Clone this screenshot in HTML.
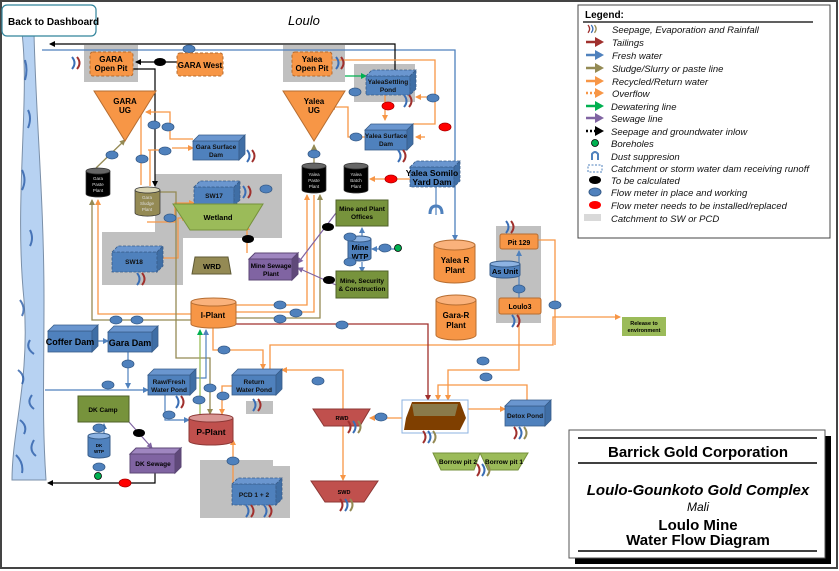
<!DOCTYPE html>
<html><head><meta charset="utf-8"><style>
html,body{margin:0;padding:0;background:#fff;}
svg{display:block;font-family:"Liberation Sans",sans-serif;}
.b{font-weight:bold;}
</style></head><body>
<svg width="839" height="571" viewBox="0 0 839 571" xmlns="http://www.w3.org/2000/svg">
<defs>
<marker id="ao" markerUnits="userSpaceOnUse" markerWidth="6" markerHeight="6" refX="5" refY="3" orient="auto"><path d="M0,0L6,3L0,6z" fill="#f79646"/></marker>
<marker id="ab" markerUnits="userSpaceOnUse" markerWidth="6" markerHeight="6" refX="5" refY="3" orient="auto"><path d="M0,0L6,3L0,6z" fill="#4f81bd"/></marker>
<marker id="ak" markerUnits="userSpaceOnUse" markerWidth="6" markerHeight="6" refX="5" refY="3" orient="auto"><path d="M0,0L6,3L0,6z" fill="#000"/></marker>
<marker id="ar" markerUnits="userSpaceOnUse" markerWidth="6" markerHeight="6" refX="5" refY="3" orient="auto"><path d="M0,0L6,3L0,6z" fill="#a0302d"/></marker>
<marker id="ap" markerUnits="userSpaceOnUse" markerWidth="6" markerHeight="6" refX="5" refY="3" orient="auto"><path d="M0,0L6,3L0,6z" fill="#8064a2"/></marker>
<marker id="ag" markerUnits="userSpaceOnUse" markerWidth="6" markerHeight="6" refX="5" refY="3" orient="auto"><path d="M0,0L6,3L0,6z" fill="#00b050"/></marker>
<marker id="ao2" markerUnits="userSpaceOnUse" markerWidth="6" markerHeight="6" refX="5" refY="3" orient="auto"><path d="M0,0L6,3L0,6z" fill="#948a54"/></marker>
<g id="sp"><path d="M0,0 q5,6 0,12" fill="none" stroke="#3a6eb5" stroke-width="2"/><path d="M5,0 q5,6 0,12" fill="none" stroke="#a0302d" stroke-width="2"/></g>
<g id="sp3"><path d="M0,0 q5,6 0,12" fill="none" stroke="#a0302d" stroke-width="2"/><path d="M5,0 q5,6 0,12" fill="none" stroke="#3a6eb5" stroke-width="2"/><path d="M10,0 q5,6 0,12" fill="none" stroke="#948a54" stroke-width="2"/></g>
<ellipse id="m" rx="6" ry="4" fill="#4f81bd" stroke="#385d8a" stroke-width=".8"/>
<ellipse id="mr" rx="6" ry="4" fill="#f00" stroke="#a00" stroke-width=".8"/>
<ellipse id="mk" rx="6" ry="4" fill="#000"/>
</defs>
<rect x="1" y="1" width="836" height="567" fill="#fff" stroke="#444" stroke-width="2"/>

<g fill="#c0c0c0">
<rect x="84" y="45" width="54" height="37"/>
<rect x="283" y="45" width="62" height="37"/>
<rect x="354" y="64" width="61" height="38"/>
<path d="M155,174H282V238H183V285H102V232H155Z"/>
<rect x="496" y="226" width="45" height="97"/>
<path d="M200,460H273V466H290V518H200Z"/>
<rect x="246" y="401" width="27" height="13"/>
</g>

<path d="M22,33 C30,100 14,200 24,300 C30,380 12,430 12,480 L46,480 C42,420 44,380 44,300 C44,200 36,120 34,33Z" fill="#b7d2f2" stroke="#7a8fa8" stroke-width="1"/>
<g stroke="#2b5ca8" stroke-width="2" fill="none" opacity=".8">
<path d="M25,60 q3,10 0,20M28,110 q4,8 0,18M22,170 q5,10 0,20M30,230 q4,8 0,16M20,300 q6,8 2,16M30,340 q-5,8 4,14M18,370 q8,6 4,14M32,395 q-6,8 2,14M20,420 q8,6 4,14M34,440 q-6,10 2,16M16,455 q8,8 6,18"/>
</g>

<rect x="2" y="5" width="94" height="31" rx="5" fill="#fff" stroke="#31849b" stroke-width="1.2"/>
<text x="8" y="25" font-size="10" class="b">Back to Dashboard</text>
<text x="288" y="25" font-size="13" font-style="italic">Loulo</text>

<path d="M42,50H455V240" fill="none" stroke="#4f81bd" stroke-width="1.3" marker-end="url(#ab)"/>
<path d="M395,70V44H50" fill="none" stroke="#000" stroke-width="1.2" marker-end="url(#ak)"/>
<use href="#m" x="189" y="49"/>
<path d="M177,62H136" stroke="#000" stroke-width="1.2" marker-end="url(#ak)"/>
<use href="#mk" x="160" y="62"/>
<path d="M133,69H155V186" fill="none" stroke="#000" stroke-width="1.2" marker-end="url(#ak)"/>

<g fill="none" stroke="#f79646" stroke-width="1.3">
<path d="M332,60H435V97H416" marker-end="url(#ao)"/>
<path d="M435,97V124H413" />
<path d="M425,137H416" marker-end="url(#ao)"/>
<path d="M385,95V120" marker-end="url(#ao)"/>
<path d="M365,137H348V107H330" marker-end="url(#ao)"/>
<path d="M410,179H370" marker-end="url(#ao)"/>
<path d="M193,139H170V112H146" marker-end="url(#ao)"/>
<path d="M141,110V185"/>
<path d="M148,150H170 M150,150V186" />
<path d="M172,148H193" marker-end="url(#ao)"/>
<path d="M147,222H175V203H194" marker-end="url(#ao)"/>
<path d="M163,258H178V218H187" marker-end="url(#ao)"/>
<path d="M247,253V225" marker-end="url(#ao)"/>
<path d="M191,314H98V200" marker-end="url(#ao)"/>
<path d="M236,305H307V195" marker-end="url(#ao)"/>
<path d="M236,312H314V195"/>
<path d="M213,328V350H263V369" marker-end="url(#ao)"/>
<path d="M270,369V345H553V317H620" marker-end="url(#ao)"/>
<path d="M538,240H555V345"/>
<path d="M519,314V370H448V400" marker-end="url(#ao)"/>
<path d="M527,400V385H438V400" marker-end="url(#ao)"/>
<path d="M468,409H505" marker-end="url(#ao)"/>
<path d="M402,418H370" marker-end="url(#ao)"/>
<path d="M343,418V370H282" marker-end="url(#ao)"/>
<path d="M343,426V480" marker-end="url(#ao)"/>
<path d="M233,497V440" marker-end="url(#ao)"/>
<path d="M232,386H222V414" marker-end="url(#ao)"/>
</g>
<g fill="none" stroke="#948a54" stroke-width="1.3">
<path d="M191,320H92V200" marker-end="url(#ao2)"/>
<path d="M236,318H320V195" marker-end="url(#ao2)"/>
<path d="M96,168L125,140" marker-end="url(#ao2)"/>
<path d="M160,192H176V358H210V414" marker-end="url(#ao2)"/>
<path d="M314,163V145" marker-end="url(#ao2)"/>
</g>
<path d="M236,324H428V400" fill="none" stroke="#a0302d" stroke-width="1.3" marker-end="url(#ar)"/>
<g fill="none" stroke="#4f81bd" stroke-width="1.2">
<path d="M45,390H148" marker-end="url(#ab)"/>
<path d="M128,352V388" marker-end="url(#ab)"/>
<path d="M98,341H108" marker-end="url(#ab)"/>
<path d="M196,378H206V330" marker-end="url(#ab)"/>
<path d="M165,395V420H189" marker-end="url(#ab)"/>
<path d="M362,262V272" marker-end="url(#ab)"/>
<path d="M362,236V228" marker-end="url(#ab)"/>
<path d="M396,249H372" marker-end="url(#ab)"/>
<path d="M519,298V251" marker-end="url(#ab)"/>
<path d="M104,434V424" marker-end="url(#ab)"/>
<path d="M436,187V215"/>
</g>
<path d="M200,414V330" stroke="#9bbb59" stroke-width="1.3" fill="none" marker-end="url(#ag)"/>
<path d="M345,76H366" stroke="#00b050" stroke-width="1.3" marker-end="url(#ag)"/>
<g stroke="#8064a2" stroke-width="1.2" fill="none">
<path d="M336,213L298,263" marker-end="url(#ap)"/>
<path d="M336,285L298,268" marker-end="url(#ap)"/>
<path d="M129,422L152,448" marker-end="url(#ap)"/>
</g>
<path d="M155,473V483H48" stroke="#000" stroke-width="1.2" fill="none" marker-end="url(#ak)"/>
<path d="M430,214q0,-8 6,-8q6,0 6,8" fill="none" stroke="#4f81bd" stroke-width="3"/>

<path d="M94,91H156L125,141Z" fill="#f79646" stroke="#b66d31"/>
<text x="125" y="104" font-size="8" class="b" text-anchor="middle">GARA</text>
<text x="125" y="113" font-size="8" class="b" text-anchor="middle">UG</text>
<path d="M283,91H345L314,141Z" fill="#f79646" stroke="#b66d31"/>
<text x="314" y="104" font-size="8" class="b" text-anchor="middle">Yalea</text>
<text x="314" y="113" font-size="8" class="b" text-anchor="middle">UG</text>

<g stroke="#b66d31" stroke-dasharray="3,2" fill="#f79646">
<rect x="90" y="52" width="43" height="24" rx="3"/><rect x="177" y="53" width="46" height="23" rx="3"/><rect x="292" y="52" width="40" height="24" rx="3"/>
</g>
<g font-size="8" class="b" text-anchor="middle">
<text x="111" y="62">GARA</text><text x="111" y="71">Open Pit</text>
<text x="200" y="68">GARA West</text>
<text x="312" y="62">Yalea</text><text x="312" y="71">Open Pit</text>
</g>
<g stroke="#b66d31" fill="#f79646">
<rect x="500" y="234" width="38" height="15" rx="2"/><rect x="499" y="298" width="42" height="16" rx="2"/>
</g>
<text x="519" y="245" font-size="7" class="b" text-anchor="middle">Pit 129</text>
<text x="520" y="309" font-size="7" class="b" text-anchor="middle">Loulo3</text>

<g fill="#4f81bd" stroke="#385d8a" stroke-width=".8">
<g stroke-dasharray="3,1.5"><rect x="366" y="76" width="44" height="19"/><path d="M366,76L372,70H416L410,76Z" fill="#6a96cf"/><path d="M410,76L416,70V89L410,95Z" fill="#3f6ea5"/></g>
<rect x="193" y="141" width="46" height="19"/><path d="M193,141L199,135H245L239,141Z" fill="#6a96cf"/><path d="M239,141L245,135V154L239,160Z" fill="#3f6ea5"/>
<rect x="365" y="130" width="42" height="20"/><path d="M365,130L371,124H413L407,130Z" fill="#6a96cf"/><path d="M407,130L413,124V144L407,150Z" fill="#3f6ea5"/>
<g stroke-dasharray="3,1.5"><rect x="410" y="167" width="44" height="20"/><path d="M410,167L416,161H460L454,167Z" fill="#6a96cf"/><path d="M454,167L460,161V181L454,187Z" fill="#3f6ea5"/>
<rect x="194" y="187" width="40" height="19"/><path d="M194,187L200,181H240L234,187Z" fill="#6a96cf"/><path d="M234,187L240,181V200L234,206Z" fill="#3f6ea5"/>
<rect x="112" y="252" width="45" height="20"/><path d="M112,252L118,246H163L157,252Z" fill="#6a96cf"/><path d="M157,252L163,246V266L157,272Z" fill="#3f6ea5"/>
<rect x="232" y="484" width="44" height="21"/><path d="M232,484L238,478H282L276,484Z" fill="#6a96cf"/><path d="M276,484L282,478V499L276,505Z" fill="#3f6ea5"/></g>
<rect x="48" y="331" width="44" height="21"/><path d="M48,331L54,325H98L92,331Z" fill="#6a96cf"/><path d="M92,331L98,325V346L92,352Z" fill="#3f6ea5"/>
<rect x="108" y="332" width="44" height="20"/><path d="M108,332L114,326H158L152,332Z" fill="#6a96cf"/><path d="M152,332L158,326V346L152,352Z" fill="#3f6ea5"/>
<rect x="148" y="375" width="42" height="20"/><path d="M148,375L154,369H196L190,375Z" fill="#6a96cf"/><path d="M190,375L196,369V389L190,395Z" fill="#3f6ea5"/>
<rect x="232" y="375" width="44" height="20"/><path d="M232,375L238,369H282L276,375Z" fill="#6a96cf"/><path d="M276,375L282,369V389L276,395Z" fill="#3f6ea5"/>
<rect x="505" y="406" width="40" height="20"/><path d="M505,406L511,400H551L545,406Z" fill="#6a96cf"/><path d="M545,406L551,400V420L545,426Z" fill="#3f6ea5"/>
</g>
<g font-size="6.5" class="b" text-anchor="middle" fill="#111">
<text x="388" y="84">YaleaSettling</text><text x="388" y="92">Pond</text>
<text x="216" y="149">Gara Surface</text><text x="216" y="157">Dam</text>
<text x="386" y="138">Yalea Surface</text><text x="386" y="146">Dam</text>
<text x="214" y="198">SW17</text><text x="134" y="264">SW18</text>
<text x="254" y="497">PCD 1 + 2</text>
<text x="169" y="384">Raw/Fresh</text><text x="169" y="392">Water Pond</text>
<text x="254" y="384">Return</text><text x="254" y="392">Water Pond</text>
<text x="525" y="418">Detox Pond</text>
</g>
<text x="432" y="176" font-size="8.5" class="b" text-anchor="middle">Yalea Somilo</text>
<text x="432" y="185" font-size="8.5" class="b" text-anchor="middle">Yard Dam</text>
<text x="70" y="345" font-size="9" class="b" text-anchor="middle">Coffer Dam</text>
<text x="130" y="346" font-size="9" class="b" text-anchor="middle">Gara Dam</text>

<path d="M173,204H263L247,230H190Z" fill="#9bbb59" stroke="#76923c"/>
<text x="218" y="220" font-size="7.5" class="b" text-anchor="middle">Wetland</text>
<path d="M195,257H228L231,274H192Z" fill="#948a54" stroke="#5f5a36"/>
<text x="212" y="269" font-size="7.5" class="b" text-anchor="middle">WRD</text>

<g stroke="#4f6228" fill="#77933c">
<rect x="336" y="200" width="52" height="26"/><rect x="336" y="271" width="52" height="27"/><rect x="78" y="396" width="51" height="26"/>
</g>
<g font-size="6.5" class="b" text-anchor="middle">
<text x="362" y="211">Mine and Plant</text><text x="362" y="219">Offices</text>
<text x="362" y="283">Mine, Security</text><text x="362" y="291">&amp; Construction</text>
<text x="103" y="412">DK Camp</text>
</g>
<g fill="#8064a2" stroke="#5c4776">
<rect x="249" y="259" width="43" height="21"/><path d="M249,259L255,253H298L292,259Z" fill="#9f86c0"/><path d="M292,259L298,253V274L292,280Z" fill="#60497a"/>
<rect x="130" y="454" width="45" height="19"/><path d="M130,454L136,448H181L175,454Z" fill="#9f86c0"/><path d="M175,454L181,448V467L175,473Z" fill="#60497a"/>
</g>
<text x="271" y="268" font-size="6.5" class="b" text-anchor="middle">Mine Sewage</text>
<text x="271" y="276" font-size="6.5" class="b" text-anchor="middle">Plant</text>
<text x="153" y="466" font-size="6.5" class="b" text-anchor="middle">DK Sewage</text>
<rect x="622" y="317" width="44" height="19" fill="#9bbb59"/>
<text x="644" y="325" font-size="5.5" class="b" text-anchor="middle">Release to</text>
<text x="644" y="332" font-size="5.5" class="b" text-anchor="middle">environment</text>

<g stroke="#333" stroke-width=".7">
<path d="M86,171V194A12,3 0 0 0 110,194V171" fill="#000"/><ellipse cx="98" cy="171" rx="12" ry="3" fill="#666"/>
<path d="M302,166V190A12,3 0 0 0 326,190V166" fill="#000"/><ellipse cx="314" cy="166" rx="12" ry="3" fill="#666"/>
<path d="M344,166V190A12,3 0 0 0 368,190V166" fill="#000"/><ellipse cx="356" cy="166" rx="12" ry="3" fill="#666"/>
<path d="M135,190V213A12,3 0 0 0 160,213V190" fill="#948a54"/><ellipse cx="147.5" cy="190" rx="12.5" ry="3" fill="#d9d4b4"/>
</g>
<g font-size="4.5" fill="#ddd" text-anchor="middle">
<text x="98" y="180">Gara</text><text x="98" y="186">Paste</text><text x="98" y="192">Plant</text>
<text x="314" y="176">Yalea</text><text x="314" y="182">Paste</text><text x="314" y="188">Plant</text>
<text x="356" y="176">Yalea</text><text x="356" y="182">Batch</text><text x="356" y="188">Plant</text>
<text x="147" y="199">Gara</text><text x="147" y="205">Sludge</text><text x="147" y="211">Plant</text>
</g>
<g stroke="#b66d31" fill="#f79646">
<path d="M434,245V278A20.5,5 0 0 0 475,278V245" /><ellipse cx="454.5" cy="245" rx="20.5" ry="5" fill="#fab27c"/>
<path d="M436,300V335A20,5 0 0 0 476,335V300" /><ellipse cx="456" cy="300" rx="20" ry="5" fill="#fab27c"/>
<path d="M191,302V324A22.5,4 0 0 0 236,324V302" /><ellipse cx="213.5" cy="302" rx="22.5" ry="4" fill="#fab27c"/>
</g>
<g font-size="8" class="b" text-anchor="middle">
<text x="455" y="263">Yalea R</text><text x="455" y="273">Plant</text>
<text x="456" y="318">Gara-R</text><text x="456" y="328">Plant</text>
<text x="213" y="318">I-Plant</text>
</g>
<g stroke="#8c3836" fill="#c0504d">
<path d="M189,418V441A22,4 0 0 0 233,441V418"/><ellipse cx="211" cy="418" rx="22" ry="4" fill="#d99694"/>
</g>
<text x="211" y="435" font-size="8.5" class="b" text-anchor="middle">P-Plant</text>
<g stroke="#385d8a" fill="#4f81bd">
<path d="M348,239V258A11.5,3 0 0 0 371,258V239"/><ellipse cx="359.5" cy="239" rx="11.5" ry="3" fill="#8db3e2"/>
<path d="M490,264V275A15,3 0 0 0 520,275V264"/><ellipse cx="505" cy="264" rx="15" ry="3" fill="#8db3e2"/>
<path d="M88,436V455A11,3 0 0 0 110,455V436"/><ellipse cx="99" cy="436" rx="11" ry="3" fill="#8db3e2"/>
</g>
<text x="360" y="250" font-size="7.5" class="b" text-anchor="middle">Mine</text>
<text x="360" y="259" font-size="7.5" class="b" text-anchor="middle">WTP</text>
<text x="505" y="274" font-size="7.5" class="b" text-anchor="middle">As Unit</text>
<text x="99" y="447" font-size="4.5" class="b" text-anchor="middle">DK</text>
<text x="99" y="453" font-size="4.5" class="b" text-anchor="middle">WTP</text>

<path d="M313,409H370L360,426H324Z" fill="#c0504d" stroke="#8c3836"/>
<text x="342" y="420" font-size="5.5" class="b" text-anchor="middle">RWD</text>
<path d="M311,481H378L364,502H325Z" fill="#c0504d" stroke="#8c3836"/>
<text x="344" y="494" font-size="5.5" class="b" text-anchor="middle">SWD</text>
<rect x="402" y="400" width="66" height="33" fill="#fff" stroke="#8db3e2"/>
<path d="M412,402H460L466,418L460,430H404L406,418Z" fill="#7f3f00"/>
<path d="M412,404H458L455,416H414Z" fill="#8a7a4a"/>
<path d="M433,453H480L474,470H441Z M480,453H528L518,470H488Z" fill="#9bbb59" stroke="#76923c"/>
<text x="458" y="464" font-size="6.5" class="b" text-anchor="middle">Borrow pit 2</text>
<text x="504" y="464" font-size="6.5" class="b" text-anchor="middle">Borrow pit 1</text>

<use href="#sp" x="72" y="57"/><use href="#sp" x="336" y="57"/><use href="#sp" x="404" y="95"/>
<use href="#sp" x="398" y="150"/><use href="#sp" x="247" y="150"/><use href="#sp" x="243" y="186"/>
<use href="#sp" x="137" y="273"/><use href="#sp" x="176" y="396"/><use href="#sp" x="253" y="399"/>
<use href="#sp" x="506" y="221"/><use href="#sp" x="512" y="315"/><use href="#sp" x="246" y="505"/><use href="#sp" x="264" y="505"/>
<use href="#sp3" x="348" y="421"/><use href="#sp3" x="340" y="499"/><use href="#sp3" x="423" y="431"/><use href="#sp3" x="514" y="427"/><use href="#sp3" x="477" y="464"/>

<use href="#m" x="154" y="125"/><use href="#m" x="168" y="127"/><use href="#m" x="142" y="159"/><use href="#m" x="165" y="151"/>
<use href="#m" x="112" y="155"/><use href="#m" x="170" y="218"/><use href="#m" x="266" y="189"/>
<use href="#m" x="355" y="92"/><use href="#m" x="356" y="137"/><use href="#m" x="433" y="98"/><use href="#m" x="314" y="154"/>
<use href="#m" x="350" y="237"/><use href="#m" x="350" y="262"/><use href="#m" x="385" y="248"/>
<use href="#m" x="116" y="320"/><use href="#m" x="137" y="320"/><use href="#m" x="280" y="305"/><use href="#m" x="296" y="313"/><use href="#m" x="280" y="319"/><use href="#m" x="342" y="325"/>
<use href="#m" x="128" y="364"/><use href="#m" x="108" y="385"/><use href="#m" x="199" y="400"/><use href="#m" x="210" y="388"/><use href="#m" x="223" y="396"/>
<use href="#m" x="224" y="350"/><use href="#m" x="318" y="381"/><use href="#m" x="169" y="415"/>
<use href="#m" x="99" y="428"/><use href="#m" x="99" y="467"/><use href="#m" x="233" y="461"/>
<use href="#m" x="381" y="417"/><use href="#m" x="483" y="361"/><use href="#m" x="486" y="377"/><use href="#m" x="555" y="305"/><use href="#m" x="519" y="289"/>
<use href="#mr" x="388" y="106"/><use href="#mr" x="445" y="127"/><use href="#mr" x="391" y="179"/><use href="#mr" x="125" y="483"/>
<use href="#mk" x="248" y="239"/><use href="#mk" x="328" y="227"/><use href="#mk" x="329" y="280"/><use href="#mk" x="139" y="433"/>
<circle cx="398" cy="248" r="3.5" fill="#00b050" stroke="#000" stroke-width=".8"/>
<circle cx="98" cy="476" r="3.5" fill="#00b050" stroke="#000" stroke-width=".8"/>

<!-- legend -->
<rect x="578" y="5" width="252" height="233" fill="#fff" stroke="#444"/>
<text x="585" y="18" font-size="10" class="b">Legend:</text>
<line x1="583" y1="22" x2="813" y2="22" stroke="#000" stroke-width="1.3"/>
<g font-size="9.5" font-style="italic" fill="#111">
<text x="612" y="33">Seepage, Evaporation and Rainfall</text>
<text x="612" y="46">Tailings</text>
<text x="612" y="59">Fresh water</text>
<text x="612" y="72">Sludge/Slurry or paste line</text>
<text x="612" y="85">Recycled/Return water</text>
<text x="612" y="97">Overflow</text>
<text x="611" y="110">Dewatering line</text>
<text x="611" y="122">Sewage line</text>
<text x="611" y="135">Seepage and groundwater inlow</text>
<text x="611" y="147">Boreholes</text>
<text x="611" y="160">Dust suppresion</text>
<text x="611" y="172">Catchment or storm water dam receiving runoff</text>
<text x="611" y="184">To be calculated</text>
<text x="611" y="196">Flow meter in place and working</text>
<text x="611" y="209">Flow meter needs to be installed/replaced</text>
<text x="611" y="222">Catchment to SW or PCD</text>
</g>
<g transform="translate(588,25) scale(.65)"><use href="#sp3"/></g>
<g stroke-width="2.5">
<path d="M586,42H596" stroke="#a0302d"/><path d="M595,37L604,42L595,47Z" fill="#a0302d"/>
<path d="M586,55H596" stroke="#4f81bd"/><path d="M595,50L604,55L595,60Z" fill="#4f81bd"/>
<path d="M586,68H596" stroke="#948a54"/><path d="M595,63L604,68L595,73Z" fill="#948a54"/>
<path d="M586,81H596" stroke="#f79646"/><path d="M595,76L604,81L595,86Z" fill="#f79646"/>
<path d="M586,93H596" stroke="#f79646" stroke-dasharray="2,2"/><path d="M595,88L604,93L595,98Z" fill="#f79646"/>
<path d="M586,106H596" stroke="#00b050"/><path d="M595,101L604,106L595,111Z" fill="#00b050"/>
<path d="M586,118H596" stroke="#8064a2"/><path d="M595,113L604,118L595,123Z" fill="#8064a2"/>
<path d="M586,131H596" stroke="#000" stroke-dasharray="2,2"/><path d="M595,126L604,131L595,136Z" fill="#000"/>
</g>
<circle cx="595" cy="143" r="3.5" fill="#00b050" stroke="#000" stroke-width=".8"/>
<path d="M592,160V154q3,-4 6,0V160" fill="none" stroke="#4f81bd" stroke-width="2"/>
<rect x="588" y="165" width="14" height="7" fill="none" stroke="#4f81bd" stroke-dasharray="2,1.5"/>
<ellipse cx="595" cy="180" rx="6" ry="4" fill="#000"/>
<ellipse cx="595" cy="192" rx="6" ry="4" fill="#4f81bd" stroke="#385d8a"/>
<ellipse cx="595" cy="205" rx="6" ry="4" fill="#f00"/>
<rect x="584" y="214" width="17" height="7" fill="#d9d9d9"/>

<rect x="575" y="436" width="256" height="128" fill="#000"/>
<rect x="569" y="430" width="256" height="128" fill="#fff" stroke="#555"/>
<line x1="578" y1="438" x2="817" y2="438" stroke="#000" stroke-width="1.5"/>
<line x1="578" y1="463" x2="817" y2="463" stroke="#000" stroke-width="1.5"/>
<line x1="578" y1="551" x2="817" y2="551" stroke="#000" stroke-width="1.5"/>
<text x="698" y="457" font-size="15" class="b" text-anchor="middle">Barrick Gold Corporation</text>
<text x="698" y="495" font-size="15" class="b" font-style="italic" text-anchor="middle">Loulo-Gounkoto Gold Complex</text>
<text x="698" y="511" font-size="12" font-style="italic" text-anchor="middle">Mali</text>
<text x="698" y="530" font-size="15" class="b" text-anchor="middle">Loulo Mine</text>
<text x="698" y="545" font-size="15" class="b" text-anchor="middle">Water Flow Diagram</text>
</svg>
</body></html>
